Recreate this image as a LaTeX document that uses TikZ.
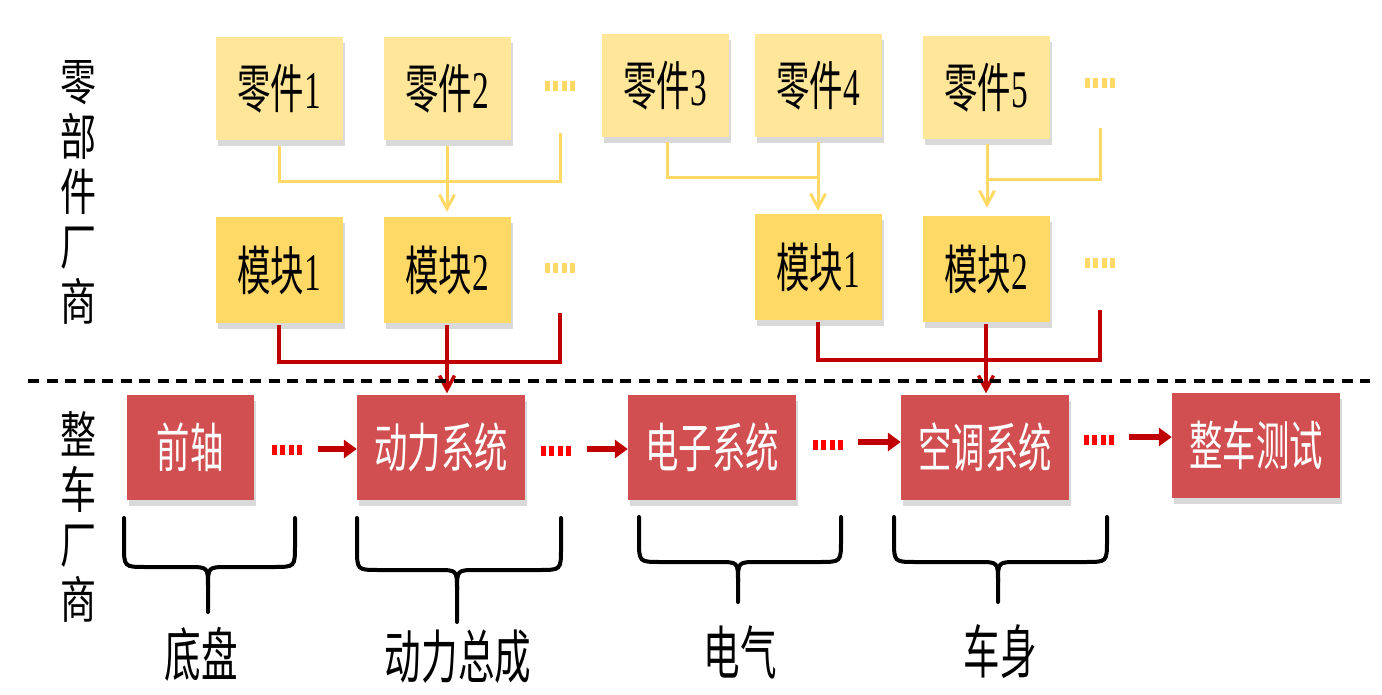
\documentclass[tikz,border=0pt]{standalone}
\usepackage{fontspec}
\usetikzlibrary{arrows.meta,shadows}
\newfontfamily\cjk[FakeStretch=0.63]{Noto Sans CJK SC}
\newfontfamily\cjkv[FakeStretch=0.72]{Noto Sans CJK SC}
\newfontfamily\sernum[FakeStretch=0.63]{Liberation Serif}
\definecolor{ylight}{HTML}{FFE699}
\definecolor{ymid}{HTML}{FFD966}
\definecolor{rbox}{HTML}{D14F51}
\definecolor{rline}{HTML}{C00000}
\definecolor{rdot}{HTML}{FF0000}
\newcommand\drawbrace[6]{%
  \draw[bracestyle] (#1,#4) -- (#1,{#5-22}) .. controls (#1,#5) .. ({#1+22},#5) -- ({#3-20},#5) .. controls (#3,#5) .. (#3,{#5+20}) -- (#3,#6);
  \draw[bracestyle] (#2,#4) -- (#2,{#5-22}) .. controls (#2,#5) .. ({#2-22},#5) -- ({#3+20},#5) .. controls (#3,#5) .. (#3,{#5+20});
}
\begin{document}
\begin{tikzpicture}[x=1pt,y=-1pt,
  shad/.style={drop shadow={shadow xshift=2pt,shadow yshift=-6pt,opacity=0.3}},
  partbox/.style={shad,fill=ylight,minimum width=127pt,minimum height=103pt,inner sep=0pt,font=\cjk\fontsize{53}{56}\selectfont},
  modbox/.style={shad,fill=ymid,minimum width=127pt,minimum height=106pt,inner sep=0pt,font=\cjk\fontsize{53}{56}\selectfont},
  carbox/.style={shad,fill=rbox,minimum width=168pt,minimum height=105pt,inner sep=0pt,text=white,font=\cjk\fontsize{53}{56}\selectfont},
  ydots/.style={minimum width=30.5pt,minimum height=10pt,inner sep=0pt,
    path picture={\draw[ymid,line width=10pt,dash pattern=on 5pt off 3.5pt] (path picture bounding box.west) -- (path picture bounding box.east);}},
  rdots/.style={minimum width=30.5pt,minimum height=10pt,inner sep=0pt,
    path picture={\draw[rdot,line width=10pt,dash pattern=on 5pt off 3.5pt] (path picture bounding box.west) -- (path picture bounding box.east);}},
  yline/.style={draw=ymid,line width=3pt},
  yarrow/.style={yline,-{Straight Barb[length=14pt,width=15pt]}},
  rline2/.style={draw=rline,line width=3.5pt},
  rarrow/.style={rline2,-{Straight Barb[length=14pt,width=15pt]}},
  flowarrow/.style={draw=rline,line width=6.5pt,-{Triangle[length=13pt,width=18pt]}},
  bracestyle/.style={draw=black,line width=4pt,line cap=round},
  blabel/.style={font=\cjk\fontsize{58}{60}\selectfont,inner sep=0pt},
  vlabel/.style={font=\cjkv\fontsize{50}{55}\selectfont,align=center,inner sep=0pt}
]
\useasboundingbox (0,0) rectangle (1382,695);

% side labels
\node[vlabel] (vtop) at (78,192) {零\\部\\件\\厂\\商};
\node[vlabel] (vbot) at (78,517) {整\\车\\厂\\商};

% parts
\node[partbox] (p1) at (279,89) {零件{\sernum 1}};
\node[partbox] (p2) at (447,89) {零件{\sernum 2}};
\node[ydots] (yd1) at (560,86) {};
\node[partbox] (p3) at (665,86) {零件{\sernum 3}};
\node[partbox] (p4) at (818,86) {零件{\sernum 4}};
\node[partbox] (p5) at (986,88) {零件{\sernum 5}};
\node[ydots] (yd2) at (1100,83) {};

% modules
\node[modbox] (m1) at (279,270) {模块{\sernum 1}};
\node[modbox] (m2) at (447,270) {模块{\sernum 2}};
\node[ydots] (yd3) at (560,268) {};
\node[modbox] (m3) at (818,267) {模块{\sernum 1}};
\node[modbox] (m4) at (986,269) {模块{\sernum 2}};
\node[ydots] (yd4) at (1100,263) {};

% car maker row
\node[carbox,minimum width=127pt] (c1) at (190,447) {前轴};
\node[rdots] (rd1) at (287,450) {};
\node[carbox] (c2) at (441,447) {动力系统};
\node[rdots] (rd2) at (556,451) {};
\node[carbox] (c3) at (712,447) {电子系统};
\node[rdots] (rd3) at (828,445) {};
\node[carbox] (c4) at (985,447) {空调系统};
\node[rdots] (rd4) at (1099,440) {};
\node[carbox] (c5) at (1256,445) {整车测试};

% free ends of the buses
\coordinate (ye1) at ([yshift=-42pt]yd1.south);
\coordinate (ye2) at ([yshift=-40pt]yd2.south);
\coordinate (ye3) at ([yshift=-40pt]yd3.south);
\coordinate (ye4) at ([yshift=-42pt]yd4.south);

% yellow buses
\draw[yline] ([yshift=-5pt]p1.south) |- ([yshift=-41pt]p2.south) -| (ye1);
\draw[yarrow,shorten <=5pt,shorten >=5pt] (p2.south) -- (m2.north);
\draw[yline] ([yshift=-4pt,xshift=2pt]p3.south) |- ([yshift=-40pt]p4.south);
\draw[yarrow,shorten <=4pt,shorten >=3pt] (p4.south) -- (m3.north);
\draw[yline] ([yshift=-40pt,xshift=1pt]p5.south) -| (ye2);
\draw[yarrow,shorten <=4pt,shorten >=8pt] ([xshift=1pt]p5.south) -- ([xshift=1pt]m4.north);

% red buses
\draw[rline2] ([yshift=-2pt]m1.south) |- ([yshift=-39pt]m2.south) -| (ye3);
\draw[rarrow,shorten <=2pt,shorten >=1pt] (m2.south) -- (m2.south |- c2.north);
\draw[rline2] ([yshift=-2pt]m3.south) |- ([yshift=-38pt]m4.south) -| (ye4);
\draw[rarrow,shorten <=2pt,shorten >=1pt] (m4.south) -- (m4.south |- c4.north);

% separator
\draw[line width=4pt,dash pattern=on 11pt off 7.5pt] (28,381) -- (1370,381);

% flow arrows
\draw[flowarrow] ([xshift=16pt,yshift=1pt]rd1.east) -- ([yshift=1pt]rd1.east -| c2.west);
\draw[flowarrow] ([xshift=16pt,yshift=2pt]rd2.east) -- ([yshift=2pt]rd2.east -| c3.west);
\draw[flowarrow] ([xshift=15pt,yshift=3pt]rd3.east) -- ([yshift=3pt]rd3.east -| c4.west);
\draw[flowarrow] ([xshift=15pt,yshift=3pt]rd4.east) -- ([yshift=3pt]rd4.east -| c5.west);

% braces
\drawbrace{124}{295}{208}{518}{567}{612}
\drawbrace{357}{561}{457}{518}{570}{622}
\drawbrace{639}{841}{738}{517}{562}{602}
\drawbrace{894}{1107}{998}{517}{562}{602}

\node[blabel] (l1) at (201,654) {底盘};
\node[blabel] (l2) at (458,657) {动力总成};
\node[blabel] (l3) at (740,652) {电气};
\node[blabel] (l4) at (1000,652) {车身};
\end{tikzpicture}
\end{document}
